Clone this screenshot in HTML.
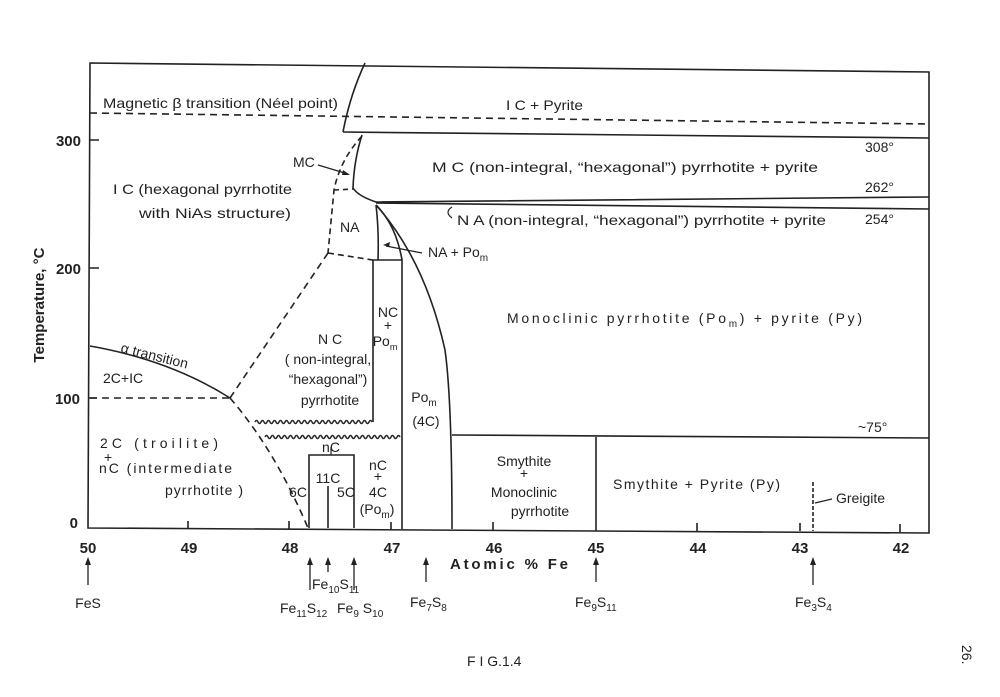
<!DOCTYPE html>
<html><head><meta charset="utf-8"><style>
html,body{margin:0;padding:0;background:#fff;}
svg{display:block}
text{font-family:"Liberation Sans",sans-serif;fill:#222;font-size:14px}
.b{font-family:"Liberation Sans",sans-serif;font-size:15px;font-weight:bold}
.s{font-size:10px}
</style></head><body>
<svg width="1000" height="697" viewBox="0 0 1000 697" xmlns="http://www.w3.org/2000/svg">
<g fill="none" stroke="#222" stroke-width="1.6">
<path d="M90,63 L929,72 L929,533 L88,528 Z"/>
<path d="M90,113 L929,124" stroke-dasharray="7,5"/>
<path d="M365,63 Q350,95 343,132"/>
<path d="M343,132 L929,138"/>
<path d="M362,135 Q354,160 353,188 Q358,196 376,202 L929,197"/>
<path d="M376,203 L929,209"/>
<path d="M362,136 Q340,160 334,190 L328,253" stroke-dasharray="6,4"/>
<path d="M334,190 L353,189" stroke-dasharray="5,4"/>
<path d="M328,253 L373,260" stroke-dasharray="6,4"/>
<path d="M328,253 L230,398" stroke-dasharray="7,5"/>
<path d="M230,398 Q275,450 308,528" stroke-dasharray="7,5"/>
<path d="M90,398 L230,398" stroke-dasharray="7,5"/>
<path d="M90,346 Q170,360 230,398"/>
<path d="M376,205 Q379,230 378,260"/>
<path d="M376,205 Q396,225 402,260"/>
<path d="M376,205 Q425,260 445,350 Q452,400 452,529"/>
<path d="M373,422 L373,260 L402,260 L402,529"/>
<path d="M452,435 L929,438"/>
<path d="M596,437 L596,531"/>
<path d="M813,482 L813,531" stroke-dasharray="4,2"/>
<path d="M815,503 L832,499" stroke-width="1.2"/>
<path d="M309,528 L309,455 L354,455 L354,528"/>
<path d="M328,528 L328,486"/>
<path d="M331,455 L331,447" stroke-width="1.2"/>
<path stroke-width="1.4" d="M255,422 q1.5,-3 3,0 q1.5,3 3,0 q1.5,-3 3,0 q1.5,3 3,0 q1.5,-3 3,0 q1.5,3 3,0 q1.5,-3 3,0 q1.5,3 3,0 q1.5,-3 3,0 q1.5,3 3,0 q1.5,-3 3,0 q1.5,3 3,0 q1.5,-3 3,0 q1.5,3 3,0 q1.5,-3 3,0 q1.5,3 3,0 q1.5,-3 3,0 q1.5,3 3,0 q1.5,-3 3,0 q1.5,3 3,0 q1.5,-3 3,0 q1.5,3 3,0 q1.5,-3 3,0 q1.5,3 3,0 q1.5,-3 3,0 q1.5,3 3,0 q1.5,-3 3,0 q1.5,3 3,0 q1.5,-3 3,0 q1.5,3 3,0 q1.5,-3 3,0 q1.5,3 3,0 q1.5,-3 3,0 q1.5,3 3,0 q1.5,-3 3,0 q1.5,3 3,0 q1.5,-3 3,0 q1.5,3 3,0 q1.5,-3 3,0"/>
<path stroke-width="1.4" d="M265,437 q1.5,-3 3,0 q1.5,3 3,0 q1.5,-3 3,0 q1.5,3 3,0 q1.5,-3 3,0 q1.5,3 3,0 q1.5,-3 3,0 q1.5,3 3,0 q1.5,-3 3,0 q1.5,3 3,0 q1.5,-3 3,0 q1.5,3 3,0 q1.5,-3 3,0 q1.5,3 3,0 q1.5,-3 3,0 q1.5,3 3,0 q1.5,-3 3,0 q1.5,3 3,0 q1.5,-3 3,0 q1.5,3 3,0 q1.5,-3 3,0 q1.5,3 3,0 q1.5,-3 3,0 q1.5,3 3,0 q1.5,-3 3,0 q1.5,3 3,0 q1.5,-3 3,0 q1.5,3 3,0 q1.5,-3 3,0 q1.5,3 3,0 q1.5,-3 3,0 q1.5,3 3,0 q1.5,-3 3,0 q1.5,3 3,0 q1.5,-3 3,0 q1.5,3 3,0 q1.5,-3 3,0 q1.5,3 3,0 q1.5,-3 3,0 q1.5,3 3,0 q1.5,-3 3,0 q1.5,3 3,0 q1.5,-3 3,0 q1.5,3 3,0 q1.5,-3 3,0"/>
<path d="M188,529 V521 M289,529 V521 M391,530 V522 M493,530 V522 M697,531 V523 M800,531 V523 M900,532 V524"/>
<path d="M89,140 H99 M89,268 H99 M89,398 H97"/>
<path d="M88,585 V562 M310,590 V562 M328,572 V562 M354,590 V562 M426,582 V562 M596,582 V562 M813,585 V562" stroke-width="1.3"/>
<path d="M318,165 L348,174" stroke-width="1.2"/>
<path d="M422,253 L386,246" stroke-width="1.2"/>
<path d="M452,218 Q444,212 452,207" stroke-width="1.2"/>
</g>
<g fill="#222">
<path d="M88,557 l-3,8 h6z M310,557 l-3,8 h6z M328,557 l-3,8 h6z M354,557 l-3,8 h6z M426,557 l-3,8 h6z M596,557 l-3,8 h6z M813,557 l-3,8 h6z"/>
<path d="M350,175 l-7,-5 l-1,5z"/>
<path d="M383,245 l7,-3 l-1,5z"/>
</g>
<text x="103" y="108" font-size="16" textLength="235" lengthAdjust="spacingAndGlyphs">Magnetic β transition (Néel point)</text>
<text x="506" y="110" font-size="15" textLength="77" lengthAdjust="spacingAndGlyphs">I C + Pyrite</text>
<text x="865" y="152" font-size="15">308°</text>
<text x="865" y="192" font-size="15">262°</text>
<text x="865" y="224" font-size="15">254°</text>
<text x="432" y="172" font-size="16" textLength="386" lengthAdjust="spacingAndGlyphs">M C (non-integral, “hexagonal”) pyrrhotite + pyrite</text>
<text x="457" y="225" font-size="16" textLength="369" lengthAdjust="spacingAndGlyphs">N A (non-integral, “hexagonal”) pyrrhotite + pyrite</text>
<text x="293" y="167" font-size="15">MC</text>
<text x="113" y="194" font-size="16" textLength="179" lengthAdjust="spacingAndGlyphs">I C (hexagonal pyrrhotite</text>
<text x="139" y="218" font-size="16" textLength="152" lengthAdjust="spacingAndGlyphs">with NiAs structure)</text>
<text x="340" y="232" font-size="15">NA</text>
<text x="428" y="257" font-size="15">NA + Po<tspan class="s" dy="4">m</tspan></text>
<text x="507" y="323" font-size="15" textLength="355" lengthAdjust="spacing">Monoclinic pyrrhotite (Po<tspan class="s" dy="4">m</tspan><tspan dy="-4">) + pyrite (Py)</tspan></text>
<text x="388" y="317" text-anchor="middle" font-size="13">NC</text>
<text x="388" y="330" text-anchor="middle" font-size="10">+</text>
<text x="385" y="346" text-anchor="middle" font-size="13">Po<tspan font-size="9" dy="4">m</tspan></text>
<text x="330" y="344" text-anchor="middle" font-size="15">N C</text>
<text x="328" y="364" text-anchor="middle" font-size="14">( non-integral,</text>
<text x="328" y="384" text-anchor="middle" font-size="14">“hexagonal”)</text>
<text x="330" y="405" text-anchor="middle" font-size="14">pyrrhotite</text>
<text x="120" y="352" font-size="15" transform="rotate(14 120 352)">α transition</text>
<text x="103" y="383" font-size="15">2C+IC</text>
<text x="424" y="402" text-anchor="middle" font-size="15">Po<tspan class="s" dy="4">m</tspan></text>
<text x="426" y="426" text-anchor="middle" font-size="15">(4C)</text>
<text x="100" y="448" font-size="15" textLength="118" lengthAdjust="spacing">2C (troilite)</text>
<text x="104" y="462" font-size="11">+</text>
<text x="99" y="473" font-size="15" textLength="133" lengthAdjust="spacing">nC (intermediate</text>
<text x="165" y="495" font-size="15" textLength="78" lengthAdjust="spacing">pyrrhotite )</text>
<text x="858" y="432" font-size="15">~75°</text>
<text x="298" y="497" text-anchor="middle" font-size="14">6C</text>
<text x="328" y="483" text-anchor="middle" font-size="14">11C</text>
<text x="346" y="497" text-anchor="middle" font-size="14">5C</text>
<text x="331" y="452" text-anchor="middle" font-size="14">nC</text>
<text x="378" y="470" text-anchor="middle" font-size="14">nC</text>
<text x="378" y="481" text-anchor="middle" font-size="10">+</text>
<text x="378" y="497" text-anchor="middle" font-size="14">4C</text>
<text x="377" y="514" text-anchor="middle" font-size="14">(Po<tspan class="s" dy="4">m</tspan><tspan dy="-4">)</tspan></text>
<text x="524" y="466" text-anchor="middle" font-size="15">Smythite</text>
<text x="524" y="478" text-anchor="middle" font-size="11">+</text>
<text x="524" y="497" text-anchor="middle" font-size="15">Monoclinic</text>
<text x="540" y="516" text-anchor="middle" font-size="15">pyrrhotite</text>
<text x="613" y="489" font-size="15" textLength="167" lengthAdjust="spacing">Smythite + Pyrite (Py)</text>
<text x="836" y="503" font-size="15">Greigite</text>
<text class="b" x="88" y="553" text-anchor="middle">50</text>
<text class="b" x="189" y="553" text-anchor="middle">49</text>
<text class="b" x="290" y="553" text-anchor="middle">48</text>
<text class="b" x="392" y="553" text-anchor="middle">47</text>
<text class="b" x="494" y="553" text-anchor="middle">46</text>
<text class="b" x="596" y="553" text-anchor="middle">45</text>
<text class="b" x="698" y="553" text-anchor="middle">44</text>
<text class="b" x="800" y="553" text-anchor="middle">43</text>
<text class="b" x="901" y="553" text-anchor="middle">42</text>
<text class="b" x="81" y="146" text-anchor="end">300</text>
<text class="b" x="81" y="274" text-anchor="end">200</text>
<text class="b" x="80" y="404" text-anchor="end">100</text>
<text class="b" x="78" y="528" text-anchor="end">0</text>
<text class="b" x="450" y="569" font-size="16" textLength="118" lengthAdjust="spacing">Atomic % Fe</text>
<text class="b" x="44" y="305" text-anchor="middle" transform="rotate(-90 44 305)">Temperature, °C</text>
<text x="88" y="608" text-anchor="middle">FeS</text>
<text x="280" y="613">Fe<tspan class="s" dy="4">11</tspan><tspan dy="-4">S</tspan><tspan class="s" dy="4">12</tspan></text>
<text x="312" y="589">Fe<tspan class="s" dy="4">10</tspan><tspan dy="-4">S</tspan><tspan class="s" dy="4">11</tspan></text>
<text x="337" y="613">Fe<tspan class="s" dy="4">9</tspan><tspan dy="-4"> S</tspan><tspan class="s" dy="4">10</tspan></text>
<text x="410" y="607">Fe<tspan class="s" dy="4">7</tspan><tspan dy="-4">S</tspan><tspan class="s" dy="4">8</tspan></text>
<text x="575" y="607">Fe<tspan class="s" dy="4">9</tspan><tspan dy="-4">S</tspan><tspan class="s" dy="4">11</tspan></text>
<text x="795" y="607">Fe<tspan class="s" dy="4">3</tspan><tspan dy="-4">S</tspan><tspan class="s" dy="4">4</tspan></text>
<text x="467" y="666" font-size="13">F I G.1.4</text>
<text x="962" y="645" font-size="14" transform="rotate(90 962 645)">26.</text>
</svg>
</body></html>
